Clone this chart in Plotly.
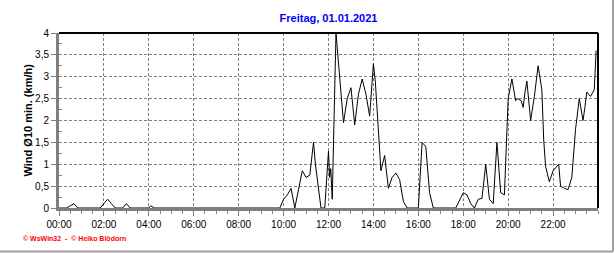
import plotly.graph_objects as go

# ---- data (time of day, wind Ø10 min in km/h) ----
times = ["00:00", "00:20", "00:30", "00:40", "00:50", "01:50", "02:00", "02:10", "02:20", "02:30",
         "02:50", "03:00", "03:10", "04:00", "04:05", "04:15", "09:50", "10:00", "10:10", "10:20",
         "10:30", "10:50", "11:00", "11:10", "11:20", "11:25", "11:40", "11:50", "12:00", "12:03",
         "12:06", "12:10", "12:20", "12:25", "12:40", "12:50", "12:55", "13:00", "13:10", "13:20",
         "13:30", "13:40", "13:50", "14:00", "14:05", "14:10", "14:15", "14:20", "14:25", "14:30",
         "14:40", "14:50", "15:00", "15:10", "15:20", "15:30", "16:00", "16:10", "16:20", "16:30",
         "16:40", "17:40", "18:00", "18:10", "18:20", "18:30", "18:40", "18:50", "19:00", "19:10",
         "19:20", "19:30", "19:40", "19:50", "20:00", "20:10", "20:20", "20:25", "20:35", "20:40",
         "20:45", "20:50", "21:00", "21:10", "21:20", "21:30", "21:35", "21:40", "21:50", "22:00",
         "22:15", "22:20", "22:30", "22:40", "22:50", "23:00", "23:10", "23:20", "23:25", "23:30",
         "23:40", "23:50", "23:55"]
wind = [0, 0, 0.05, 0.1, 0, 0, 0.1, 0.2, 0.1, 0,
        0, 0.1, 0, 0, 0.05, 0, 0, 0.2, 0.3, 0.45,
        0, 0.85, 0.7, 0.75, 1.5, 1.0, 0, 0, 1.3, 0.7,
        0.9, 0.2, 4.0, 3.5, 1.95, 2.5, 2.65, 2.75, 1.9, 2.6,
        2.95, 2.6, 2.1, 3.3, 2.9, 2.1, 1.55, 0.85, 1.05, 1.2,
        0.45, 0.7, 0.8, 0.65, 0.15, 0, 0, 1.5, 1.4, 0.35,
        0, 0, 0.35, 0.3, 0.1, 0, 0.2, 0.22, 1.0, 0.2,
        0.1, 1.5, 0.35, 0.3, 2.5, 2.95, 2.45, 2.5, 2.45, 2.3,
        2.65, 2.9, 2.0, 2.55, 3.25, 2.7, 1.55, 0.95, 0.6, 0.85,
        1.0, 0.5, 0.45, 0.42, 0.7, 1.8, 2.5, 2.0, 2.3, 2.65,
        2.55, 2.7, 3.6]

tick_labels = ["00:00", "02:00", "04:00", "06:00", "08:00", "10:00",
               "12:00", "14:00", "16:00", "18:00", "20:00", "22:00"]

day = "2021-01-01"
x = [f"{day} {t}" for t in times]
tick_vals = [f"{day} {t}" for t in tick_labels]
title_text = "Freitag, 01.01.2021"
y_label = "Wind Ø10 min. (km/h)"
credit = "© WsWin32  -  © Heiko Blödorn"

W, H = 616, 253
L, R, T, B = 59, 18, 33, 45
pw, ph = W - L - R, H - T - B

fig = go.Figure()
fig.add_trace(go.Scatter(x=x, y=wind, mode="lines",
                         line=dict(color="black", width=1), hoverinfo="skip"))

font = "Liberation Sans, Arial, sans-serif"
fig.update_layout(
    width=W, height=H, margin=dict(l=L, r=R, t=T, b=B, autoexpand=False),
    paper_bgcolor="white", plot_bgcolor="white", showlegend=False,
    separators=",.",
    font=dict(family=font, size=10, color="black"),
    title=dict(text="<b>" + title_text + "</b>", x=0.5, xref="paper", xanchor="center",
               y=1 - 18 / H, yanchor="middle",
               font=dict(family=font, size=11, color="#0000ff")),
)
fig.update_xaxes(
    type="date", range=[f"{day} 00:00", "2021-01-02 00:00"],
    tickmode="array", tickvals=tick_vals, ticktext=tick_labels,
    showgrid=True, gridcolor="#808080", griddash="3px,2px", gridwidth=1,
    showline=True, linecolor="#808080", linewidth=3,
    ticks="outside", ticklen=5, tickcolor="#808080", tickwidth=1,
    minor=dict(dtick=1800000, tick0=f"{day} 00:00", ticks="outside", ticklen=3,
               tickcolor="#808080", showgrid=False),
    zeroline=False, fixedrange=True, automargin=False,
    tickfont=dict(size=10),
)
fig.update_yaxes(
    range=[0, 4], dtick=0.5, tick0=0,
    showgrid=True, gridcolor="#808080", griddash="3px,2px", gridwidth=1,
    showline=True, linecolor="#808080", linewidth=3,
    ticks="outside", ticklen=5, tickcolor="#808080", tickwidth=1,
    minor=dict(dtick=0.25, ticks="inside", ticklen=3, tickcolor="#808080", showgrid=False),
    zeroline=False, fixedrange=True, automargin=False,
    tickfont=dict(size=10),
)

# frame: black top and right edges of the plot area
fig.add_shape(type="line", xref="paper", yref="paper", x0=0, x1=1, y0=1, y1=1,
              line=dict(color="black", width=2))
fig.add_shape(type="line", xref="paper", yref="paper", x0=1, x1=1, y0=0, y1=1,
              line=dict(color="black", width=2))
# outer window border (right and bottom)
bx = (613 - L) / pw
by = ((H - B) - 251.5) / ph
fig.add_shape(type="line", xref="paper", yref="paper", x0=bx, x1=bx, y0=by, y1=1 + T / ph,
              line=dict(color="#a0a0a0", width=2))
fig.add_shape(type="line", xref="paper", yref="paper", x0=-L / pw, x1=bx, y0=by, y1=by,
              line=dict(color="#a0a0a0", width=2))

fig.add_annotation(text="<b>" + y_label + "</b>", textangle=-90,
                   xref="paper", yref="paper", x=(27 - L) / pw, y=0.5,
                   xanchor="center", yanchor="middle", showarrow=False,
                   font=dict(family=font, size=11, color="black"))
fig.add_annotation(text="<b>" + credit + "</b>",
                   xref="paper", yref="paper", x=(21 - L) / pw, y=((H - B) - 238) / ph,
                   xanchor="left", yanchor="middle", showarrow=False,
                   font=dict(family=font, size=7, color="#ff0000"))

fig.write_html("out.html")
